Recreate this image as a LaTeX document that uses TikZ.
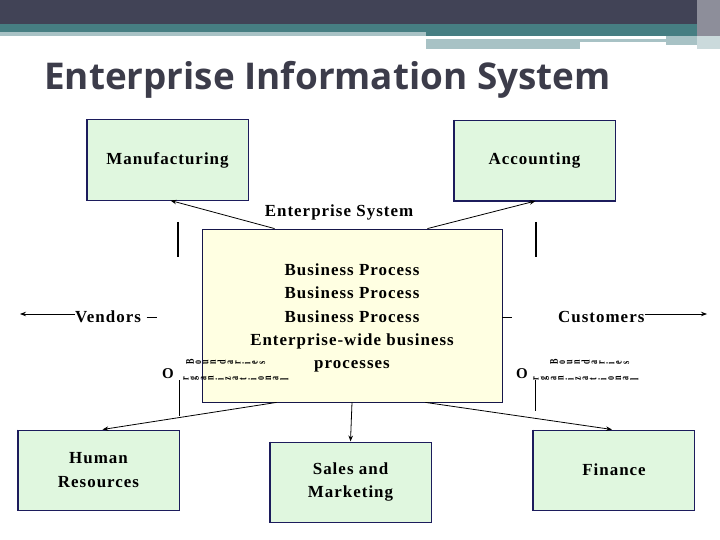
\documentclass[tikz,border=0pt]{standalone}
\usepackage{fontspec}
\usepackage{graphicx}
\setmainfont{Liberation Serif}
\newfontfamily\titlefont{Open Sans}[Ligatures=NoCommon]
\newfontfamily\dfont{Liberation Serif}[LetterSpace=6.0]
\usetikzlibrary{arrows.meta,calc}
\definecolor{hdark}{HTML}{414356}
\definecolor{hteal}{HTML}{467E82}
\definecolor{hlight}{HTML}{A8C2C5}
\definecolor{titlecol}{HTML}{3C3C4A}
\definecolor{boxgreen}{HTML}{E0F7DF}
\definecolor{boxyellow}{HTML}{FFFFE2}
\definecolor{navy}{HTML}{1C1C5C}
\newcommand\rotl[1]{\scalebox{1.3}[0.9]{\rotatebox{90}{#1}}\hspace{1.8pt}}
\begin{document}
\begin{tikzpicture}[x=1bp,y=-1bp,
  dtext/.style={font=\dfont\bfseries\fontsize{17}{23.5}\selectfont, align=center, inner sep=0pt},
  dept/.style={dtext, draw=navy, fill=boxgreen, line width=1pt, minimum width=161bp, minimum height=80bp},
  arr/.style={draw=black, line width=0.8pt, -{Stealth[length=6bp,width=4.5bp]}},
  plain/.style={draw=black, line width=0.8pt},
  rot/.style={font=\dfont\bfseries\fontsize{9}{9}\selectfont, inner sep=0pt, anchor=west}
]
\useasboundingbox (0,0) rectangle (720,540);
% header
\fill[hdark] (0,0) rectangle (720,24);
\fill[hteal] (0,24) rectangle (426,32);
\fill[hlight] (0,32) rectangle (426,36);
\fill[hteal] (426,24) rectangle (697,36);
\fill[hlight] (426,39) rectangle (666,42);
\fill[hlight] (666,36) rectangle (697,45);
\fill[hlight] (426,42) rectangle (580,49);
\fill[hdark!60!white] (697,0) rectangle (720,36);
\fill[hlight!60!white] (697,36) rectangle (720,49);
\node[anchor=west, inner sep=0pt, text=titlecol, font=\titlefont\bfseries\fontsize{37}{40}\selectfont] (title) at (44,80) {Enterprise Information System};

% central box
\node[dtext, draw=navy!80!black, fill=boxyellow, line width=0.8pt, minimum width=300bp, minimum height=173bp] (es) at (352,315.5) {};
\node[dtext] (bp) at (352,318) {Business Process\\Business Process\\Business Process\\Enterprise-wide business\\processes};
\node[dtext] (estitle) at (339,212) {Enterprise System};

% departments
\node[dept] (man) at (167.5,160) {Manufacturing};
\node[dept] (acc) at (534.5,160.5) {Accounting};
\node[dept] (hr) at (98.5,470) {Human\\Resources};
\node[dept] (sm) at (350.5,482) {Sales and\\Marketing};
\node[dept] (fin) at (614,470) {Finance};
\foreach \n in {man,acc,hr,sm,fin}{
  \draw[navy, line width=2pt] (\n.north west) |- (\n.south east);
}

% outside partners
\node[dtext, anchor=west] (ven) at (75,317) {Vendors};
\node[dtext, anchor=west] (cus) at (558,317) {Customers};
\coordinate (venend) at (20,314);
\coordinate (cusend) at (707,314);
\draw[arr] (ven.west |- venend) -- (venend);
\draw[arr] (cus.east |- cusend) -- (cusend);
\draw[plain] ([shift={(-55bp,-1.5bp)}]es.west) -- ([shift={(-45bp,-1.5bp)}]es.west);
\draw[plain] ([shift={(0bp,-1.5bp)}]es.east) -- ([shift={(10bp,-1.5bp)}]es.east);

% connectors
\draw[arr] ([xshift=73bp]es.north west) -- ([xshift=3bp]man.south);
\draw[arr] ([xshift=-75bp]es.north east) -- ([xshift=1bp]acc.south);
\draw[arr] ([xshift=75bp]es.south west) -- ([xshift=4bp]hr.north);
\draw[arr] ([xshift=-77bp]es.south east) -- ([xshift=-2bp]fin.north);
\draw[arr] (es.south) -- (sm.north);

% boundary ticks
\draw[line width=1.8pt] (178,222) -- (178,257);
\draw[line width=1.8pt] (536,222) -- (536,257);
\draw[line width=0.9pt] (179,380) -- (179,416);
\draw[line width=0.9pt] (535,380) -- (535,411);

% garbled rotated labels
\node[dtext, font=\dfont\bfseries\fontsize{15}{15}\selectfont] (ol) at (168,374) {O};
\node[rot] (bl) at (186,362) {\rotl{B}\rotl{o}\rotl{u}\rotl{n}\rotl{d}\rotl{a}\rotl{r}\rotl{i}\rotl{e}\rotl{s}};
\node[rot] (gl) at (183,378) {\rotl{r}\rotl{g}\rotl{a}\rotl{n}\rotl{i}\rotl{z}\rotl{a}\rotl{t}\rotl{i}\rotl{o}\rotl{n}\rotl{a}\rotl{l}};
\node[dtext, font=\dfont\bfseries\fontsize{15}{15}\selectfont] (or) at (522,374) {O};
\node[rot] (br) at (550,362) {\rotl{B}\rotl{o}\rotl{u}\rotl{n}\rotl{d}\rotl{a}\rotl{r}\rotl{i}\rotl{e}\rotl{s}};
\node[rot] (gr) at (533,378) {\rotl{r}\rotl{g}\rotl{a}\rotl{n}\rotl{i}\rotl{z}\rotl{a}\rotl{t}\rotl{i}\rotl{o}\rotl{n}\rotl{a}\rotl{l}};
\end{tikzpicture}
\end{document}
